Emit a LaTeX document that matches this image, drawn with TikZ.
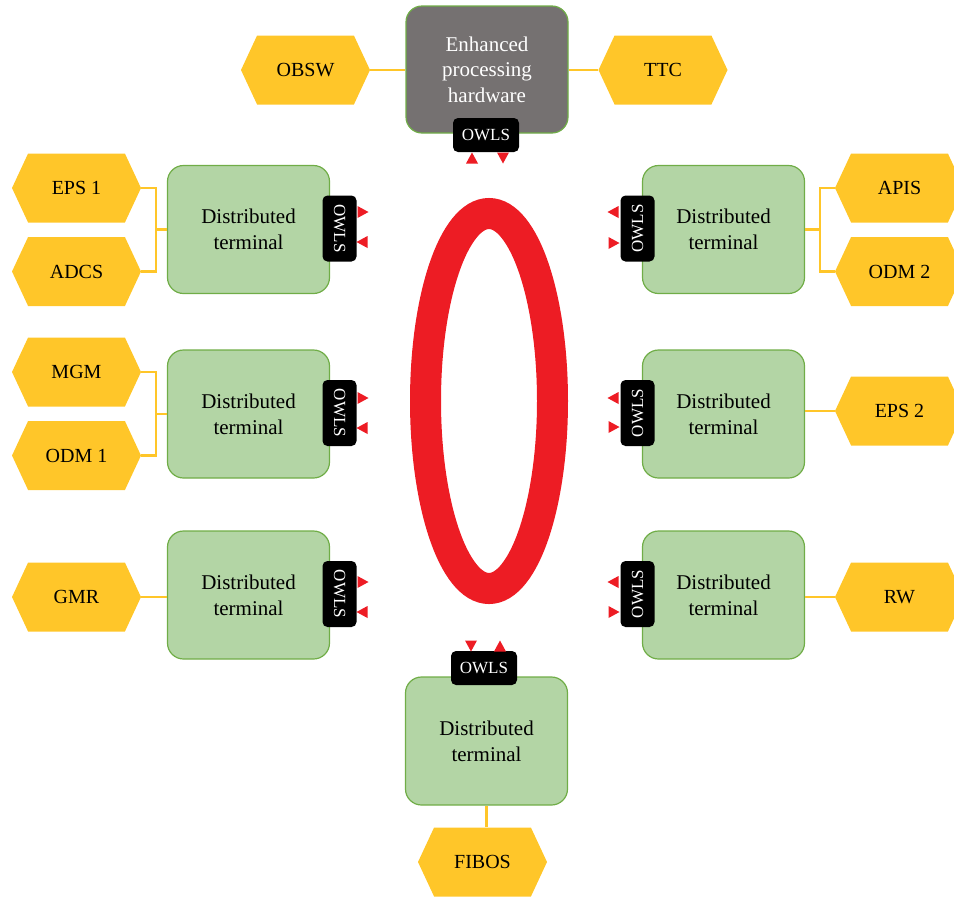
\documentclass[tikz,border=0pt]{standalone}
\usepackage{fontspec}
\setmainfont{Liberation Serif}
\usetikzlibrary{shapes.symbols}
\definecolor{hexyel}{HTML}{FFC629}
\definecolor{termfill}{HTML}{B3D5A5}
\definecolor{termedge}{HTML}{70AD47}
\definecolor{hwgray}{HTML}{757171}
\definecolor{owlred}{HTML}{ED1C24}
\newcommand\trR[2]{\fill[owlred] (#1-5.5,#2-6) -- (#1+5.5,#2) -- (#1-5.5,#2+6) -- cycle;}
\newcommand\trL[2]{\fill[owlred] (#1+5.5,#2-6) -- (#1-5.5,#2) -- (#1+5.5,#2+6) -- cycle;}
\newcommand\trU[2]{\fill[owlred] (#1-6,#2+5.5) -- (#1,#2-5.5) -- (#1+6,#2+5.5) -- cycle;}
\newcommand\trD[2]{\fill[owlred] (#1-6,#2-5.5) -- (#1,#2+5.5) -- (#1+6,#2-5.5) -- cycle;}
\begin{document}
\begin{tikzpicture}[x=1pt,y=-1pt,
 term/.style={rectangle, rounded corners=16pt, draw=termedge, fill=termfill, line width=1.2pt,
   minimum width=162pt, minimum height=128pt, align=center, inner sep=0pt,
   font=\fontsize{21}{26}\selectfont},
 hex/.style={signal, signal to=east and west, signal pointer angle=130, fill=hexyel,
   minimum width=129pt, minimum height=69pt, inner sep=0pt, font=\fontsize{20}{24}\selectfont},
 owls/.style={rectangle, rounded corners=5pt, fill=black, text=white, minimum width=66pt,
   minimum height=34pt, inner sep=0pt, font=\fontsize{17}{20}\selectfont},
 link/.style={draw=hexyel, line width=2.5pt}
]
\useasboundingbox (0,0) rectangle (954,898);
% ring
\draw[owlred, line width=31pt] (489,401) ellipse [x radius=63.5pt, y radius=187.5pt];
% main processing box
\node[term, fill=hwgray, text=white, font=\fontsize{21}{25.5}\selectfont, minimum height=127pt]
  (hw) at (487,69.5) {Enhanced\\processing\\hardware};
% terminals
\node[term] (t1) at (248.5,229.5) {Distributed\\terminal};
\node[term] (t2) at (248.5,414) {Distributed\\terminal};
\node[term] (t3) at (248.5,595) {Distributed\\terminal};
\node[term] (t4) at (723.5,229.5) {Distributed\\terminal};
\node[term] (t5) at (723.5,414) {Distributed\\terminal};
\node[term] (t6) at (723.5,595) {Distributed\\terminal};
\node[term] (t7) at (486.5,741) {Distributed\\terminal};
% OWLS
\node[owls] (oT) at (486,135) {OWLS};
\node[owls] (oB) at (484,668) {OWLS};
\node[owls, rotate=-90] (oL1) at (339.5,228.5) {OWLS};
\node[owls, rotate=-90] (oL2) at (339.5,413) {OWLS};
\node[owls, rotate=-90] (oL3) at (339.5,594) {OWLS};
\node[owls, rotate=90] (oR1) at (637.5,228.5) {OWLS};
\node[owls, rotate=90] (oR2) at (637.5,413) {OWLS};
\node[owls, rotate=90] (oR3) at (637.5,594) {OWLS};
% triangles
\trU{472}{158} \trD{503}{158}
\trD{471}{646} \trU{500}{646}
\trR{363}{212} \trL{362}{242}
\trR{363}{398} \trL{362}{428}
\trR{363}{582} \trL{362}{612}
\trL{613}{212} \trR{614}{243}
\trL{613}{398} \trR{614}{427}
\trL{613}{582} \trR{614}{612}
% hexagons
\node[hex] (obsw) at (305.5,70) {OBSW};
\node[hex] (ttc) at (663,70) {TTC};
\node[hex] (eps1) at (76.5,188) {EPS 1};
\node[hex] (adcs) at (76.5,271.5) {ADCS};
\node[hex] (mgm) at (76.5,372) {MGM};
\node[hex] (odm1) at (76.5,455.5) {ODM 1};
\node[hex] (gmr) at (76.5,597) {GMR};
\node[hex] (apis) at (899.5,188) {APIS};
\node[hex] (odm2) at (899.5,271.5) {ODM 2};
\node[hex] (eps2) at (899.5,411) {EPS 2};
\node[hex] (rw) at (899.5,597) {RW};
\node[hex] (fibos) at (482.5,862) {FIBOS};
% connectors
\coordinate (brL1) at (156,229.5);
\coordinate (brL2) at (156,414);
\coordinate (brR1) at (820,229.5);
\draw[link] (obsw.east) -- (hw.west |- obsw.east);
\draw[link] (ttc.west) -- (hw.east |- ttc.west);
\draw[link] (eps1.east) -| (brL1) |- (adcs.east);
\draw[link] (brL1) -- (t1.west);
\draw[link] (mgm.east) -| (brL2) |- (odm1.east);
\draw[link] (brL2) -- (t2.west);
\draw[link] (gmr.east) -- (t3.west |- gmr.east);
\draw[link] (apis.west) -| (brR1) |- (odm2.west);
\draw[link] (brR1) -- (t4.east);
\draw[link] (eps2.west) -- (t5.east |- eps2.west);
\draw[link] (rw.west) -- (t6.east |- rw.west);
\draw[link] (fibos.north -| t7.south) -- (t7.south);
\end{tikzpicture}
\end{document}
